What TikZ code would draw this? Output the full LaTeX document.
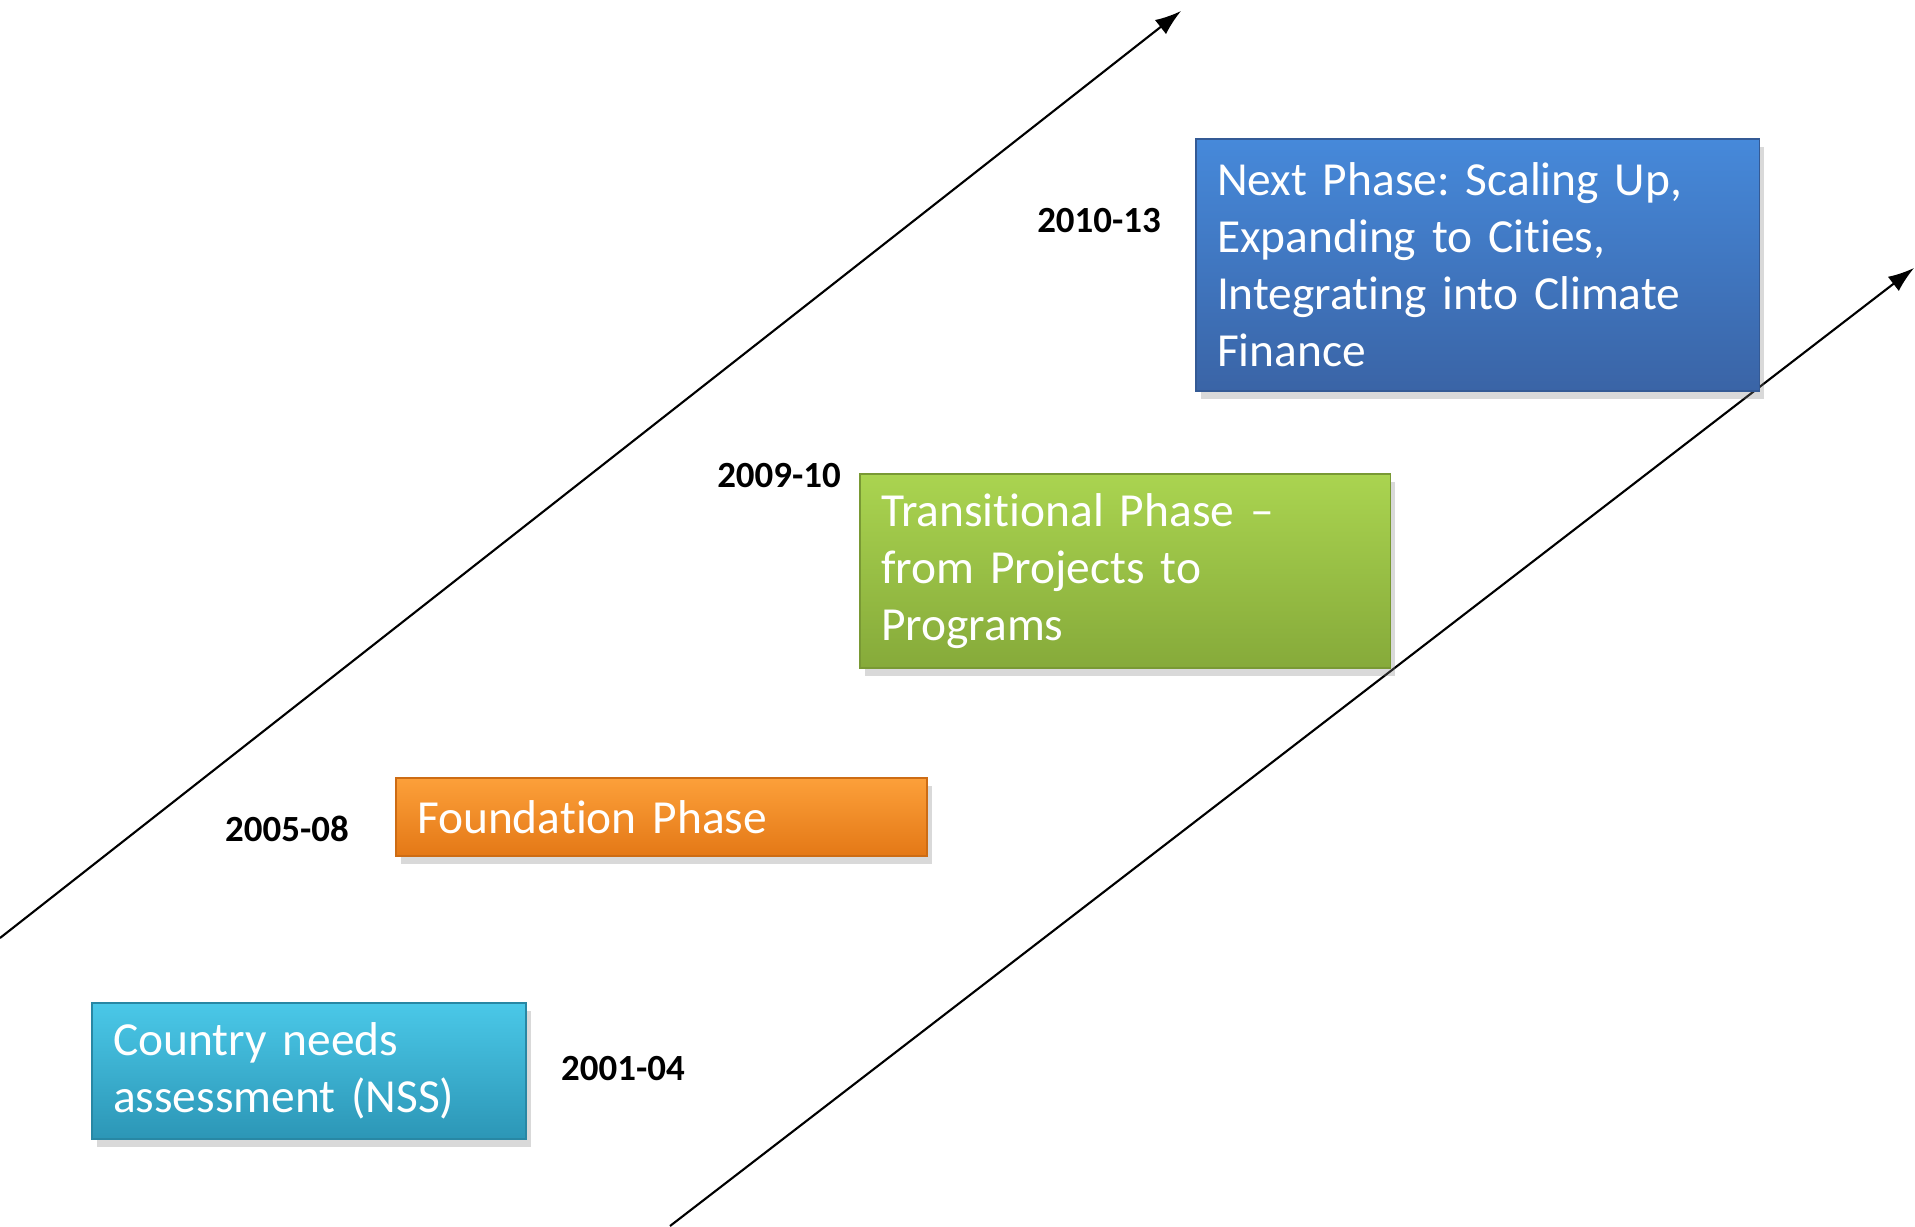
\documentclass[tikz,border=0pt]{standalone}
\usepackage{fontspec}
\setmainfont[Ligatures={NoCommon,NoContextual}]{Carlito}
\usetikzlibrary{arrows.meta,shadows}
\frenchspacing

\definecolor{needsTop}{RGB}{74,200,232}
\definecolor{needsBot}{RGB}{44,150,182}
\definecolor{foundTop}{RGB}{252,160,58}
\definecolor{foundBot}{RGB}{228,120,22}
\definecolor{transTop}{RGB}{170,212,80}
\definecolor{transBot}{RGB}{134,170,58}
\definecolor{nextTop}{RGB}{70,137,218}
\definecolor{nextBot}{RGB}{58,100,166}

\begin{document}
\begin{tikzpicture}[
	phase/.style={rectangle, draw=#1Bot!90!black, line width=0.3pt,
		top color=#1Top, bottom color=#1Bot, text=white, align=left,
		inner xsep=0.21cm, font=\fontsize{13.5}{16.2}\selectfont,
		drop shadow={shadow xshift=0.5mm, shadow yshift=-0.8mm, opacity=0.3}},
	year/.style={font=\fontsize{10.5}{12}\selectfont\bfseries},
	timeline/.style={-{Latex[length=2.6mm,width=1.8mm]}, line width=0.6pt}
]
	\useasboundingbox (0,0) rectangle (19.15,12.26);

	\coordinate (highStart) at (0,2.88);
	\coordinate (highEnd) at (11.81,12.15);
	\coordinate (lowStart) at (6.70,0);
	\coordinate (lowEnd) at (19.14,9.58);

	\draw
		[timeline] (highStart) -- (highEnd);

	\draw
		[timeline] (lowStart) -- (lowEnd);

	\node (needs) at (3.09,1.55) [phase=needs, minimum height=1.36cm, text width=3.92cm]
		{Country needs\\assessment (NSS)};

	\node (found) at (6.615,4.09) [phase=found, minimum height=0.78cm, text width=4.89cm]
		{Foundation Phase};

	\node (trans) at (11.25,6.55) [phase=trans, minimum height=1.94cm, text width=4.88cm]
		{Transitional Phase --\\from Projects to\\Programs};

	\node (next) at (14.775,9.61) [phase=next, minimum height=2.52cm, text width=5.21cm]
		{Next Phase: Scaling Up,\\Expanding to Cities,\\Integrating into Climate\\Finance};

	\node (y0104) at (6.23,1.57) [year] {2001-04};
	\node (y0508) at (2.87,3.97) [year] {2005-08};
	\node (y0910) at (7.79,7.50) [year] {2009-10};
	\node (y1013) at (10.99,10.05) [year] {2010-13};
\end{tikzpicture}
\end{document}
